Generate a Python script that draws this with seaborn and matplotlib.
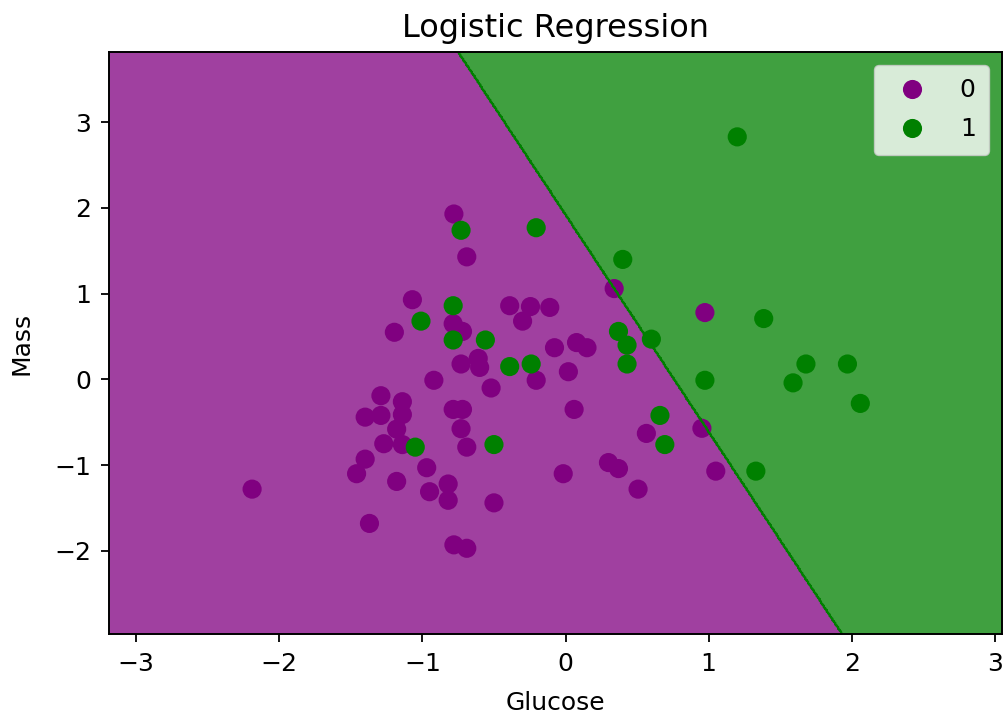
import numpy as np
import pandas as pd
import matplotlib
matplotlib.use("Agg")
import matplotlib.pyplot as plt
from matplotlib.colors import ListedColormap
import seaborn as sns

# Data (standardised features)
glucose_0 = [-0.78, -0.69, -1.07, -0.39, -0.245, -0.11, -0.30, 0.34, 0.974, -0.785,
             -0.72, -1.196, -0.61, -0.60, -0.73, -0.077, 0.077, 0.15, -0.205, 0.02,
             -0.92, -0.52, -1.29, -1.14, -1.40, -1.29, -1.14, -0.785, -0.72, -0.73,
             -1.18, -1.27, -1.14, -0.69, -1.40, -1.46, -0.97, -1.18, -2.19, -0.95,
             -0.82, -0.82, -0.50, -1.37, -0.78, -0.69, 0.06, 0.565, 0.953, -0.016,
             0.30, 0.37, 1.05, 0.507]
mass_0 = [1.93, 1.43, 0.93, 0.86, 0.85, 0.84, 0.68, 1.06, 0.78, 0.65,
          0.56, 0.55, 0.245, 0.14, 0.18, 0.37, 0.43, 0.37, -0.01, 0.09,
          -0.01, -0.10, -0.19, -0.26, -0.44, -0.42, -0.41, -0.35, -0.35, -0.575,
          -0.58, -0.75, -0.76, -0.79, -0.93, -1.10, -1.03, -1.19, -1.28, -1.31,
          -1.22, -1.41, -1.44, -1.68, -1.93, -1.97, -0.35, -0.63, -0.57, -1.10,
          -0.97, -1.04, -1.07, -1.28]
glucose_1 = [-0.73, -0.785, -1.01, -0.785, -0.56, -0.39, -0.24, -1.05, -0.50, -0.205,
             0.40, 0.37, 0.43, 0.60, 0.43, 0.974, 0.66, 0.694, 1.33, 1.385,
             1.20, 1.68, 1.97, 1.59, 2.06]
mass_1 = [1.74, 0.86, 0.68, 0.46, 0.46, 0.15, 0.18, -0.79, -0.76, 1.77,
          1.40, 0.56, 0.40, 0.47, 0.18, -0.01, -0.42, -0.76, -1.07, 0.71,
          2.83, 0.18, 0.18, -0.04, -0.28]

# Fitted decision boundary: w0*glucose + w1*mass + b = 0
coef = [1.0, 0.395]
intercept = -0.759
class_labels = ["0", "1"]
class_colors = ["purple", "green"]

df = pd.DataFrame({
    "Glucose": glucose_0 + glucose_1,
    "Mass": mass_0 + mass_1,
    "Outcome": [class_labels[0]] * len(glucose_0) + [class_labels[1]] * len(glucose_1),
})

plt.rcParams["font.family"] = ["DejaVu Sans"]
plt.rcParams["axes.linewidth"] = 1.4

fig = plt.figure(figsize=(10.04, 7.16), dpi=100)
ax = fig.add_axes([109 / 1004, 82 / 716, 893 / 1004, 582 / 716])

x_all = df["Glucose"].to_numpy()
y_all = df["Mass"].to_numpy()
X1, X2 = np.meshgrid(np.arange(x_all.min() - 1, x_all.max() + 1, 0.01),
                     np.arange(y_all.min() - 1, y_all.max() + 1, 0.01))
Z = (coef[0] * X1 + coef[1] * X2 + intercept > 0).astype(float)
ax.contourf(X1, X2, Z, alpha=0.75, cmap=ListedColormap(class_colors))
ax.contour(X1, X2, Z, levels=[0.5], colors=["green"], linewidths=1.6)
ax.set_xlim(X1.min(), X1.max())
ax.set_ylim(X2.min(), X2.max())

sns.scatterplot(data=df, x="Glucose", y="Mass", hue="Outcome",
                palette=dict(zip(class_labels, class_colors)),
                hue_order=class_labels, s=190, linewidth=0, ax=ax)

fs = 18
ax.set_title("Logistic Regression", fontsize=23, pad=11)
ax.set_xlabel("Glucose", fontsize=fs, labelpad=11)
ax.set_ylabel("Mass", fontsize=fs, labelpad=15)
ax.tick_params(labelsize=fs, length=6, width=1.3, pad=7)
handles, labels = ax.get_legend_handles_labels()
ax.legend(handles, labels, loc="upper right", fontsize=fs, markerscale=1.0,
          handletextpad=0.9, borderpad=0.55, labelspacing=0.6)

fig.savefig("out.png", dpi=100)
